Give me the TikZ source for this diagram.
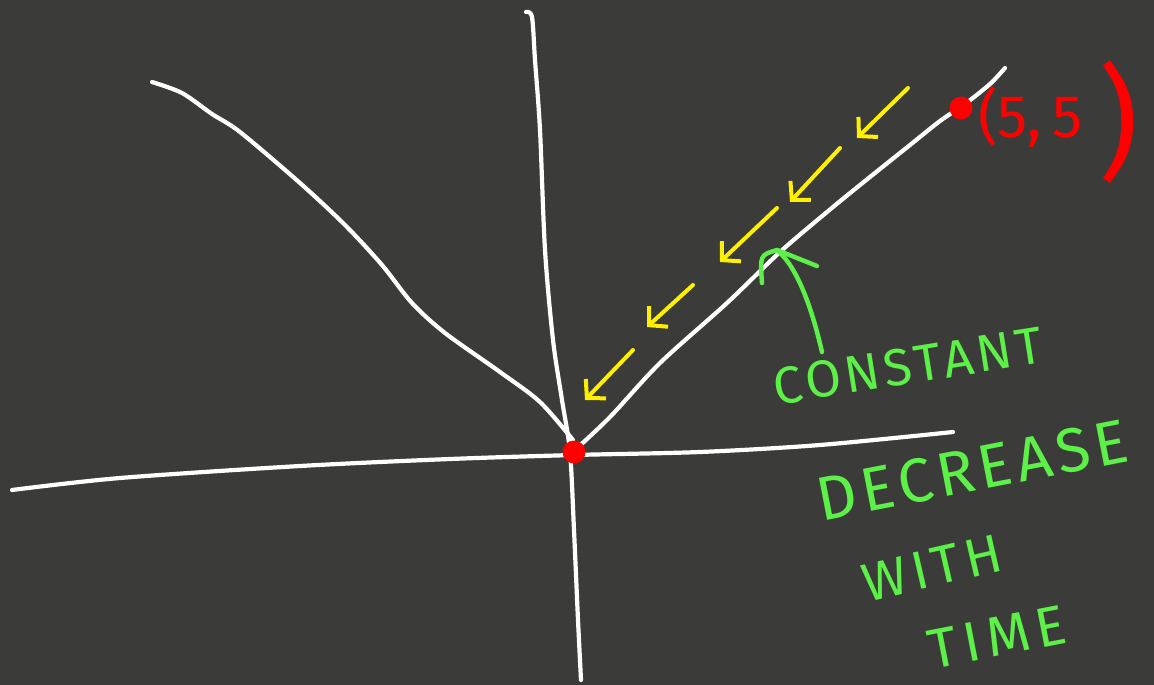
\documentclass[tikz,border=0pt]{standalone}
\usepackage{fontspec}
\setmainfont{Fira Sans}
\usetikzlibrary{arrows.meta}
\definecolor{board}{RGB}{59,59,58}
\definecolor{inkred}{RGB}{255,0,0}
\definecolor{inkyellow}{RGB}{255,240,0}
\definecolor{inkgreen}{RGB}{92,240,72}
\tikzset{
  chalk/.style={white,line width=4.2pt,line cap=round,line join=round},
  yarrow/.style={inkyellow,line width=4pt,line cap=round,-{Straight Barb[length=13pt,width=28pt,line width=4pt]}},
  gpen/.style={inkgreen,line width=4.5pt,line cap=round,line join=round},
  gtext/.style={text=inkgreen,inner sep=0pt},
  dot/.style={circle,fill=inkred,minimum size=23pt,inner sep=0pt}
}
\begin{document}
\begin{tikzpicture}[x=1pt,y=-1pt]
		
		\fill[board] (0,0) rectangle (1154,685);
		\useasboundingbox (0,0) rectangle (1154,685);
		
		% axes
		\draw[chalk] plot[smooth] coordinates {(526,12) (532,17) (535,60) (540,130) (545,250) (553,340) (562,400) (570,452) (574,530) (578,620) (581,680)};
		\draw[chalk] plot[smooth] coordinates {(12,490) (120,478) (300,466) (450,459) (574,455) (700,452) (820,445) (953,432)};
		
		% the two branches
		\draw[chalk] plot[smooth] coordinates {(152,82) (182,93) (212,114) (240,132) (300,183) (345,225) (382,265) (412,303) (445,333) (500,372) (540,402) (573,440)};
		\draw[chalk] plot[smooth] coordinates {(575,450) (610,417) (660,363) (727,303) (780,252) (827,212) (860,185) (910,145) (940,121) (965,104) (990,84) (1005,68)};
		
		\node[dot] (origin) at (574,452) {};
		\node[dot] (start) at (961,108) {};
		\node[text=inkred,anchor=base west,inner sep=0pt] (startlbl) at (978,137) {\fontsize{60}{60}\selectfont(5,\,5\;\raisebox{-28pt}{\fontsize{124}{124}\selectfont)}};
		
		% yellow arrows
		\coordinate (ya1) at (908,88);  \coordinate (yb1) at (857,138);
		\coordinate (ya2) at (840,148); \coordinate (yb2) at (790,202);
		\coordinate (ya3) at (777,208); \coordinate (yb3) at (720,262);
		\coordinate (ya4) at (693,285); \coordinate (yb4) at (647,327);
		\coordinate (ya5) at (633,350); \coordinate (yb5) at (585,400);
		\foreach \i in {1,...,5}
			\draw[yarrow] (ya\i) -- (yb\i);
		
		% green arrow and notes
		\coordinate (gtail) at (822,352);
		\coordinate (ghead) at (777,250);
		\draw[gpen] (gtail) .. controls (810,300) and (795,265) .. (ghead);
		\draw[gpen] (762,283) .. controls (760,255) .. (ghead) -- (817,266);
		
		\node[gtext,rotate=9,font=\fontsize{52}{52}\selectfont\addfontfeature{LetterSpace=8}] (constlbl) at (908,366) {CONSTANT};
		\node[gtext,rotate=11,font=\fontsize{62}{62}\selectfont\addfontfeature{LetterSpace=8}] (declbl) at (972,470) {DECREASE};
		\node[gtext,rotate=13,font=\fontsize{54}{54}\selectfont\addfontfeature{LetterSpace=10}] (withlbl) at (932,568) {WITH};
		\node[gtext,rotate=11,font=\fontsize{56}{56}\selectfont\addfontfeature{LetterSpace=12}] (timelbl) at (997,637) {TIME};
		
	\end{tikzpicture}
\end{document}
